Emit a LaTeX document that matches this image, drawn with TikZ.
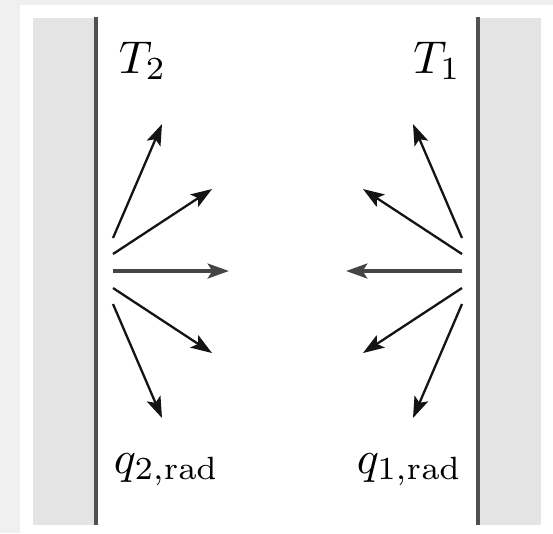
\documentclass[tikz,border=0pt]{standalone}
\usetikzlibrary{arrows.meta}
\definecolor{pagegray}{HTML}{F0F0F0}
\definecolor{wallgray}{HTML}{E4E4E4}
\definecolor{walline}{HTML}{505050}
\definecolor{rayline}{HTML}{141414}
\definecolor{midray}{HTML}{454545}
\tikzset{
  wallfill/.style={fill=wallgray, draw=none},
  wallline/.style={draw=walline, line width=0.7pt},
  ray/.style={draw=rayline, line width=0.5pt, -{Stealth[length=4.6pt,width=3.2pt,inset=1pt]}},
  mainray/.style={draw=midray, line width=0.95pt, -{Stealth[length=4.6pt,width=3.2pt,inset=1pt]}},
  lbl/.style={inner sep=0pt, outer sep=0pt, font=\fontsize{10}{12}\selectfont}
}
\begin{document}
\begin{tikzpicture}[x=0.2174pt, y=-0.2174pt]
\useasboundingbox (0,0) rectangle (553,533);
\fill[pagegray] (0,0) rectangle (553,533);
\fill[white] (20,5) rectangle (553,533);
% walls
\path[wallfill] (33,18) rectangle (95,525);
\path[wallfill] (480,18) rectangle (541,525);
\coordinate (wl1) at (96,17);
\coordinate (wl2) at (96,525);
\coordinate (wr1) at (478,17);
\coordinate (wr2) at (478,525);
\draw[wallline] (wl1) -- (wl2);
\draw[wallline] (wr1) -- (wr2);
% labels
\node[lbl, anchor=base west] (T2) at (119,73) {$T_2$};
\node[lbl, anchor=base east] (T1) at (461,73) {$T_1$};
\node[lbl, anchor=base west] (q2) at (114,473) {$q_{2,\mathrm{rad}}$};
\node[lbl, anchor=base east] (q1) at (462,473) {$q_{1,\mathrm{rad}}$};
% left rays
\coordinate (la1) at (113,238); \coordinate (lb1) at (162,124);
\coordinate (la2) at (113,254); \coordinate (lb2) at (212,189);
\coordinate (la3) at (113,271); \coordinate (lb3) at (229,271);
\coordinate (la4) at (113,288); \coordinate (lb4) at (212,353);
\coordinate (la5) at (113,304); \coordinate (lb5) at (162,418);
\draw[ray] (la1) -- (lb1);
\draw[ray] (la2) -- (lb2);
\draw[mainray] (la3) -- (lb3);
\draw[ray] (la4) -- (lb4);
\draw[ray] (la5) -- (lb5);
% right rays
\coordinate (ra1) at (462,238); \coordinate (rb1) at (413,124);
\coordinate (ra2) at (462,254); \coordinate (rb2) at (363,189);
\coordinate (ra3) at (462,271); \coordinate (rb3) at (346,271);
\coordinate (ra4) at (462,288); \coordinate (rb4) at (363,353);
\coordinate (ra5) at (462,304); \coordinate (rb5) at (413,418);
\draw[ray] (ra1) -- (rb1);
\draw[ray] (ra2) -- (rb2);
\draw[mainray] (ra3) -- (rb3);
\draw[ray] (ra4) -- (rb4);
\draw[ray] (ra5) -- (rb5);
\end{tikzpicture}
\end{document}
